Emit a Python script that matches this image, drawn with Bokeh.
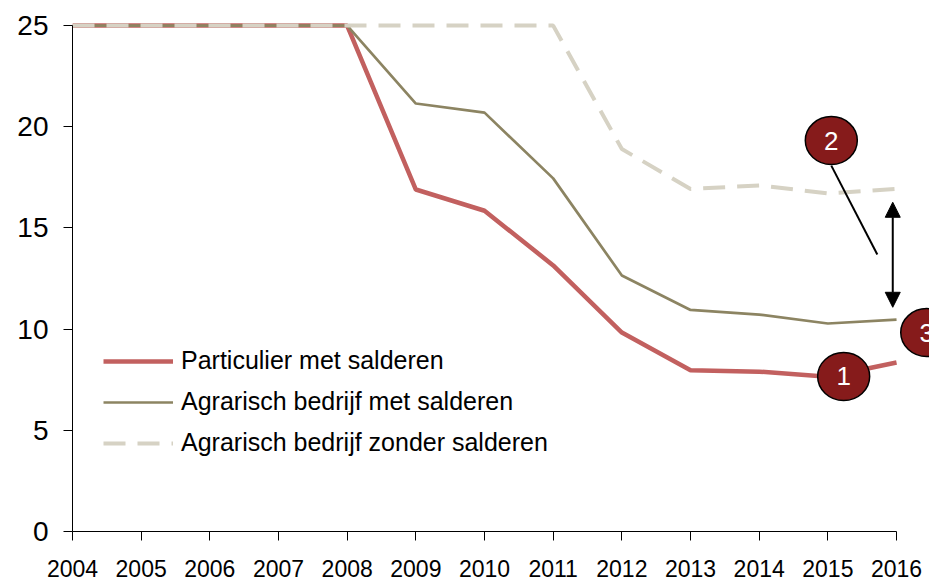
from bokeh.plotting import figure
from bokeh.models import Range1d, Legend, LegendItem, Arrow, NormalHead, FixedTicker
from bokeh.core.properties import value
from bokeh.embed import file_html
from bokeh.resources import INLINE

# ---- data ----
years = [2004, 2005, 2006, 2007, 2008, 2009, 2010, 2011, 2012, 2013, 2014, 2015, 2016]
particulier_met = [25, 25, 25, 25, 25, 16.9, 15.85, 13.15, 9.83, 7.97, 7.9, 7.65, 8.35]
agrarisch_met = [25, 25, 25, 25, 25, 21.15, 20.7, 17.45, 12.65, 10.95, 10.72, 10.28, 10.47]
agrarisch_zonder = [25, 25, 25, 25, 25, 25, 25, 25, 18.9, 16.93, 17.1, 16.71, 16.93]
y_ticks = [0, 5, 10, 15, 20, 25]
series_labels = ["Particulier met salderen", "Agrarisch bedrijf met salderen",
                 "Agrarisch bedrijf zonder salderen"]

# annotation markers (numbered circles)
marker_x = [2015.23, 2015.05, 2016.44]
marker_y = [7.66, 19.32, 9.83]
marker_text = ["1", "2", "3"]
# pointer line from marker 2
pointer_x0, pointer_y0, pointer_x1, pointer_y1 = 2015.05, 18.08, 2015.72, 13.69
# double arrow showing the gap
gap_x, gap_top, gap_bottom = 2015.945, 16.27, 11.08

FONT = "Liberation Sans"
RED = "#C2605F"
OLIVE = "#8C8462"
SAND = "#D6D2C4"
DARK = "#861B1B"

p = figure(frame_width=857, frame_height=516,
           x_range=Range1d(2004, 2016.48), y_range=Range1d(0, 25.5),
           output_backend="svg", toolbar_location=None,
           min_border_left=72, min_border_right=0, min_border_top=15, min_border_bottom=50)

p.xgrid.visible = False
p.ygrid.visible = False
p.outline_line_color = None

r1 = p.line(years, particulier_met, line_color=RED, line_width=4.5)
r2 = p.line(years, agrarisch_met, line_color=OLIVE, line_width=2.7)
r3 = p.line(years, agrarisch_zonder, line_color=SAND, line_width=4, line_dash="22 12")

for ax in (p.xaxis, p.yaxis):
    ax.axis_line_color = "black"
    ax.axis_line_width = 1
    ax.major_tick_line_color = "black"
    ax.major_tick_out = 9
    ax.major_tick_in = 0
    ax.minor_tick_line_color = None
    ax.major_label_text_font = FONT
    ax.major_label_text_color = "black"

p.xaxis.ticker = FixedTicker(ticks=years)
p.xaxis.bounds = (2004, 2016)
p.xaxis.major_label_text_font_size = "23px"
p.xaxis.major_label_standoff = 19
p.yaxis.ticker = FixedTicker(ticks=y_ticks)
p.yaxis.bounds = (0, 25)
p.yaxis.major_label_text_font_size = "28px"
p.yaxis.major_label_standoff = 15

# annotations
p.segment(x0=[pointer_x0], y0=[pointer_y0], x1=[pointer_x1], y1=[pointer_y1],
          line_color="black", line_width=2)
p.add_layout(Arrow(start=NormalHead(size=15, fill_color="black", line_color="black"),
                   end=NormalHead(size=15, fill_color="black", line_color="black"),
                   x_start=gap_x, y_start=gap_bottom, x_end=gap_x, y_end=gap_top,
                   line_color="black", line_width=2))
p.ellipse(x=marker_x, y=marker_y, width=52, height=48,
          width_units="screen", height_units="screen",
          fill_color=DARK, line_color="black", line_width=1.5)
p.text(x=marker_x, y=marker_y, text=marker_text, text_align="center",
       text_baseline="middle", text_color="white", text_font=value(FONT),
       text_font_size="26px")

legend = Legend(items=[LegendItem(label=series_labels[0], renderers=[r1]),
                       LegendItem(label=series_labels[1], renderers=[r2]),
                       LegendItem(label=series_labels[2], renderers=[r3])],
                location=(31, 74), padding=0, margin=0,
                glyph_width=70, glyph_height=22, label_height=22, spacing=12,
                label_standoff=8, label_text_font=FONT, label_text_font_size="25px",
                label_text_color="black",
                background_fill_alpha=0, border_line_alpha=0)
p.add_layout(legend)

open("out.html", "w").write(file_html(p, INLINE))
